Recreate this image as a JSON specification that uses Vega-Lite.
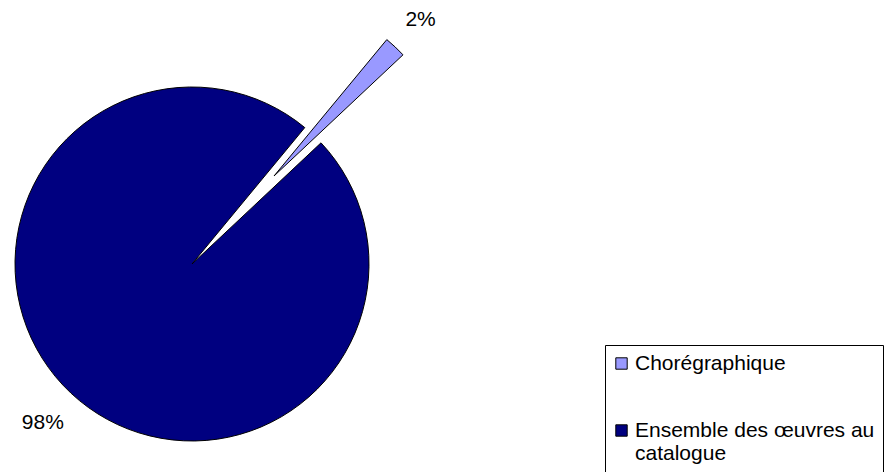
{
  "$schema": "https://vega.github.io/schema/vega-lite/v6.json",
  "width": 354,
  "height": 354,
  "autosize": "none",
  "padding": {"left": 15, "top": 87, "right": 516, "bottom": 31},
  "background": "white",
  "config": {"view": {"stroke": null}, "font": "Liberation Sans"},
  "data": {
    "values": [
      {"category": "Chorégraphique", "share": 2, "label": "2%"},
      {"category": "Ensemble des œuvres au catalogue", "share": 98, "label": "98%"}
    ]
  },
  "encoding": {
    "theta": {"field": "share", "type": "quantitative", "stack": true, "scale": {"range": [0.691, 6.974]}},
    "color": {
      "field": "category",
      "type": "nominal",
      "scale": {"domain": ["Chorégraphique", "Ensemble des œuvres au catalogue"], "range": ["#9999FF", "#000080"]},
      "legend": {
        "title": null,
        "orient": "none",
        "legendX": 590,
        "legendY": 258,
        "direction": "vertical",
        "strokeColor": "black",
        "fillColor": "white",
        "padding": 8,
        "symbolType": "square",
        "symbolSize": 130,
        "symbolOffset": -2,
        "symbolStrokeColor": "black",
        "symbolStrokeWidth": 1,
        "symbolOpacity": 1,
        "labelFont": "Liberation Sans",
        "labelFontSize": 21,
        "labelColor": "black",
        "labelOffset": 3,
        "labelLimit": 400,
        "labelLineHeight": 27,
        "rowPadding": 45,
        "labelExpr": "datum.label == 'Chorégraphique' ? datum.label : ['Ensemble des œuvres au\u00a0\u00a0', 'catalogue']"
      }
    }
  },
  "layer": [
    {
      "mark": {"type": "arc", "stroke": "black", "strokeWidth": 1, "radius": 177},
      "encoding": {
        "opacity": {"condition": {"test": "datum.category == 'Chorégraphique'", "value": 0}, "value": 1}
      }
    },
    {
      "mark": {"type": "arc", "stroke": "black", "strokeWidth": 1, "radius": 177, "xOffset": 82, "yOffset": -88},
      "encoding": {
        "opacity": {"condition": {"test": "datum.category == 'Chorégraphique'", "value": 1}, "value": 0}
      }
    },
    {
      "mark": {"type": "text", "radius": 218, "fontSize": 21, "font": "Liberation Sans", "color": "black"},
      "encoding": {
        "text": {"field": "label"},
        "color": {"value": "black"},
        "opacity": {"condition": {"test": "datum.category == 'Chorégraphique'", "value": 0}, "value": 1}
      }
    },
    {
      "mark": {"type": "text", "radius": 334, "fontSize": 21, "font": "Liberation Sans", "color": "black"},
      "encoding": {
        "text": {"field": "label"},
        "color": {"value": "black"},
        "opacity": {"condition": {"test": "datum.category == 'Chorégraphique'", "value": 1}, "value": 0}
      }
    }
  ]
}
